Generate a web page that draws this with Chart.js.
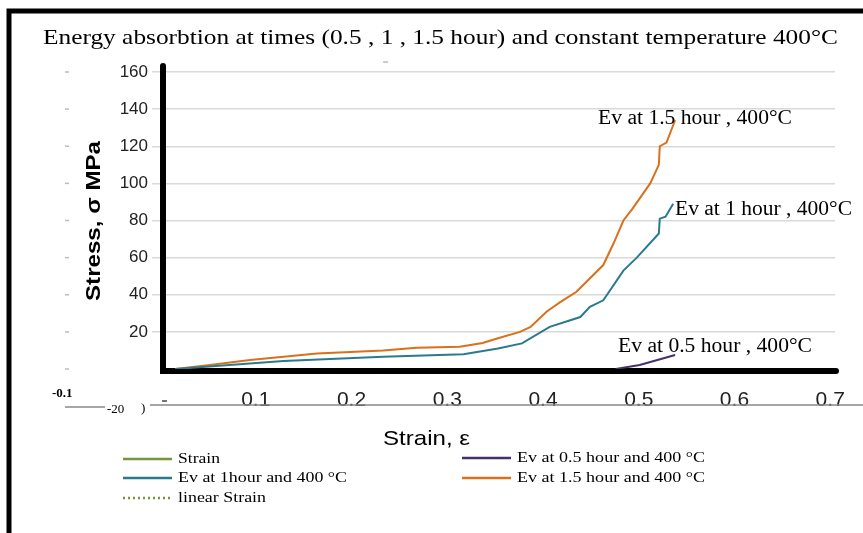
<!DOCTYPE html>
<html>
<head>
<meta charset="utf-8">
<script src="https://cdn.jsdelivr.net/npm/chart.js@4/dist/chart.umd.min.js"></script>
<style>
  html, body { margin: 0; padding: 0; background: #fff; }
  #wrap { width: 863px; height: 533px; position: relative; }
</style>
</head>
<body>
<div id="wrap"><canvas id="myChart" width="863" height="533"></canvas></div>
<script>
// Strain / stress readings (strain, stress in MPa)
const strain15 = [0.016, 0.05, 0.094, 0.164, 0.233, 0.268, 0.313, 0.337, 0.353, 0.376, 0.387, 0.404, 0.418, 0.435, 0.463, 0.474, 0.484, 0.493, 0.512, 0.521, 0.522, 0.529, 0.538];
const stress15 = [0, 2, 4.8, 8.4, 10, 11.5, 12, 14, 16.6, 20, 22.7, 31, 36, 41.6, 56, 68, 80, 86, 100, 110, 120, 122, 134];

const strain1 = [0.016, 0.129, 0.233, 0.317, 0.353, 0.378, 0.407, 0.439, 0.449, 0.463, 0.484, 0.498, 0.521, 0.522, 0.528, 0.536];
const stress1 = [0, 4.3, 6.6, 7.9, 11, 13.8, 22.7, 28, 33.5, 37, 53, 60, 73, 81, 82, 89];

const strain05 = [0.476, 0.501, 0.538];
const stress05 = [0, 2.2, 7.5];

// tick labels
const xTicks = [0.1, 0.2, 0.3, 0.4, 0.5, 0.6, 0.7];
const yTicks = [20, 40, 60, 80, 100, 120, 140, 160];

const ctx = document.getElementById('myChart');

function pts(xs, ys) {
    return xs.map((x, i) => ({ x: x, y: ys[i] }));
}

// the picture is a bit stretched sideways, so squeeze/stretch text to a width
function fitText(c, txt, x, y, w) {
    const m = c.measureText(txt).width;
    c.save();
    c.translate(x, y);
    c.scale(w / m, 1);
    c.fillText(txt, 0, 0);
    c.restore();
}

// black frame, axes, texts and the odd leftovers of the picture
const extras = {
    id: 'extras',
    beforeDatasetsDraw(chart) {
        const c = chart.ctx;
        const a = chart.chartArea;
        c.save();
        c.strokeStyle = '#000';
        c.lineWidth = 6;
        c.lineCap = 'round';
        c.beginPath();
        c.moveTo(a.left + 3, a.top - 6);
        c.lineTo(a.left + 3, a.bottom + 2);
        c.lineTo(a.right + 1, a.bottom + 2);
        c.stroke();
        c.restore();
    },
    afterDraw(chart) {
        const c = chart.ctx;
        const y = chart.scales.y;
        c.save();
        // frame
        c.strokeStyle = '#000';
        c.lineWidth = 5;
        c.beginPath();
        c.moveTo(9, 533);
        c.lineTo(9, 11);
        c.lineTo(863, 11);
        c.stroke();

        // ghost ticks on the left
        c.strokeStyle = '#bbb';
        c.lineWidth = 1.5;
        [0].concat(yTicks).forEach(v => {
            const py = y.getPixelForValue(v);
            c.beginPath();
            c.moveTo(65, py);
            c.lineTo(69, py);
            c.stroke();
        });
        c.beginPath(); c.moveTo(383, 62); c.lineTo(388, 62); c.stroke();

        // second x axis line
        c.strokeStyle = '#888';
        c.beginPath(); c.moveTo(65, 407); c.lineTo(105, 407); c.stroke();
        c.beginPath(); c.moveTo(150, 405); c.lineTo(863, 405); c.stroke();
        c.strokeStyle = '#444';
        c.beginPath(); c.moveTo(162, 401); c.lineTo(167, 401); c.stroke();

        c.fillStyle = '#000';
        c.textBaseline = 'alphabetic';
        c.textAlign = 'left';
        c.font = 'bold 13px "Liberation Serif"';
        c.fillText('-0.1', 52, 397);
        c.font = '13px "Liberation Serif"';
        c.fillText('-20', 107, 413);
        c.fillText(')', 141, 412);

        // title
        c.font = '22px "Liberation Serif"';
        fitText(c, 'Energy absorbtion at times (0.5 , 1 , 1.5 hour) and constant temperature 400°C', 43, 44, 795);

        // axis titles
        c.font = '21px "Liberation Sans"';
        fitText(c, 'Strain, ε', 383, 445, 87);
        c.save();
        c.translate(100, 301);
        c.rotate(-Math.PI / 2);
        c.font = 'bold 21px "Liberation Sans"';
        fitText(c, 'Stress, σ MPa', 0, 0, 160);
        c.restore();

        // curve labels
        c.font = '20px "Liberation Serif"';
        fitText(c, 'Ev at 1.5 hour , 400°C', 598, 124, 194);
        fitText(c, 'Ev at 1 hour , 400°C', 675, 215, 177);
        fitText(c, 'Ev at 0.5 hour , 400°C', 618, 352, 194);

        // legend, two columns
        const place = {
            'Strain': [123, 459, 42], 'Ev at 1hour and 400 °C': [123, 478, 169], 'linear Strain': [123, 498, 88],
            'Ev at 0.5 hour and 400 °C': [462, 458, 188], 'Ev at 1.5 hour and 400 °C': [462, 478, 188]
        };
        c.font = '15px "Liberation Serif"';
        c.textBaseline = 'middle';
        chart.data.datasets.forEach(ds => {
            const p = place[ds.label];
            c.strokeStyle = ds.borderColor;
            c.lineWidth = 2.5;
            c.setLineDash(ds.borderDash || []);
            c.beginPath();
            c.moveTo(p[0], p[1]);
            c.lineTo(p[0] + 49, p[1]);
            c.stroke();
            c.setLineDash([]);
            fitText(c, ds.label, p[0] + 55, p[1], p[2]);
        });
        c.restore();
    }
};

new Chart(ctx, {
    type: 'line',
    data: {
        datasets: [
            { label: 'Strain', data: [], borderColor: '#77933C' },
            { label: 'Ev at 1hour and 400 °C', data: pts(strain1, stress1), borderColor: '#2A7A8F' },
            { label: 'linear Strain', data: [], borderColor: '#77933C', borderDash: [2, 3] },
            { label: 'Ev at 0.5 hour and 400 °C', data: pts(strain05, stress05), borderColor: '#46306A' },
            { label: 'Ev at 1.5 hour and 400 °C', data: pts(strain15, stress15), borderColor: '#D9701C' }
        ]
    },
    options: {
        responsive: false,
        animation: false,
        layout: { padding: { top: 72, right: 28, left: 0, bottom: 0 } },
        elements: {
            point: { radius: 0 },
            line: { borderWidth: 2, tension: 0 }
        },
        plugins: {
            legend: { display: false },
            tooltip: { enabled: false }
        },
        scales: {
            x: {
                type: 'linear',
                min: 0,
                max: 0.705,
                afterBuildTicks: s => { s.ticks = xTicks.map(v => ({ value: v })); },
                afterFit: s => { s.height = 533 - 369; },
                grid: { display: false },
                border: { display: false },
                ticks: {
                    padding: 11,
                    color: '#222',
                    font: { family: 'Liberation Sans', size: 21 },
                    callback: v => v.toFixed(1)
                }
            },
            y: {
                min: 0,
                max: 160,
                afterBuildTicks: s => { s.ticks = yTicks.map(v => ({ value: v })); },
                afterFit: s => { s.width = 160; },
                grid: { color: '#d9d9d9', lineWidth: 1.5, tickLength: 8 },
                border: { display: false },
                ticks: {
                    padding: 4,
                    color: '#222',
                    font: { family: 'Liberation Sans', size: 17 }
                }
            }
        }
    },
    plugins: [extras]
});
</script>
</body>
</html>
